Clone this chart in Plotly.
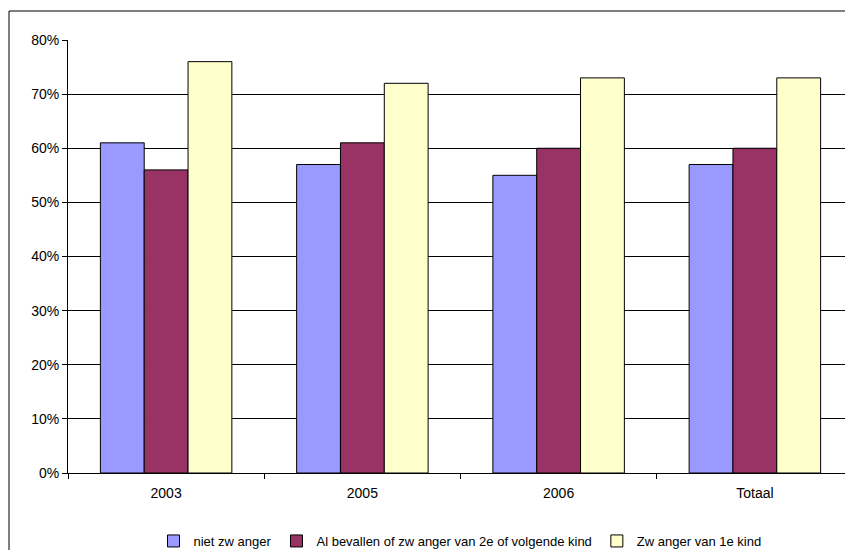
import plotly.graph_objects as go

categories = ["2003", "2005", "2006", "Totaal"]
niet_zwanger = [0.61, 0.57, 0.55, 0.57]
al_bevallen = [0.56, 0.61, 0.60, 0.60]
zwanger_1e = [0.76, 0.72, 0.73, 0.73]

series = [
    ("niet zw anger", niet_zwanger, "#9999FF"),
    ("Al bevallen of zw anger van 2e of volgende kind", al_bevallen, "#993366"),
    ("Zw anger van 1e kind", zwanger_1e, "#FFFFCC"),
]

fig = go.Figure()
for name, vals, color in series:
    fig.add_trace(
        go.Bar(
            x=categories,
            y=vals,
            name=name,
            marker=dict(color=color, line=dict(color="black", width=1)),
        )
    )

# page body has an 8px margin, so work in figure pixels (screen - 8)
W, H = 845, 542
L, R, T, B = 60, 0, 32, 77
pw, ph = W - L - R, H - T - B


def px_x(p):
    return (p - 8 - L) / pw


def px_y(p):
    return (H - B - (p - 8)) / ph


fig.update_layout(
    width=W,
    height=H,
    margin=dict(l=L, r=R, t=T, b=B, autoexpand=False),
    paper_bgcolor="white",
    plot_bgcolor="white",
    font=dict(family="Liberation Sans, Arial, sans-serif", size=14, color="black"),
    barmode="group",
    bargap=0.33,
    bargroupgap=0,
    showlegend=True,
    legend=dict(
        orientation="h",
        x=px_x(460),
        xanchor="center",
        y=px_y(541),
        yanchor="middle",
        font=dict(size=13),
        itemwidth=30,
        tracegroupgap=0,
    ),
    xaxis=dict(
        type="category",
        showline=True,
        linecolor="black",
        linewidth=1,
        ticks="outside",
        tickson="boundaries",
        ticklen=5,
        tickcolor="black",
        showgrid=False,
        ticklabelstandoff=7,
        tickfont=dict(size=14),
    ),
    yaxis=dict(
        range=[0, 0.8],
        tickvals=[i / 10 for i in range(9)],
        tickformat=".0%",
        showline=True,
        linecolor="black",
        linewidth=1,
        ticks="outside",
        ticklen=5,
        tickcolor="black",
        showgrid=True,
        gridcolor="black",
        gridwidth=1,
        zeroline=False,
        tickfont=dict(size=14),
    ),
    shapes=[
        dict(
            type="rect",
            xref="paper",
            yref="paper",
            x0=px_x(9),
            x1=px_x(880),
            y0=px_y(600),
            y1=px_y(11),
            line=dict(color="black", width=1),
            fillcolor="rgba(0,0,0,0)",
            layer="below",
        )
    ],
)

fig.write_html("out.html")
